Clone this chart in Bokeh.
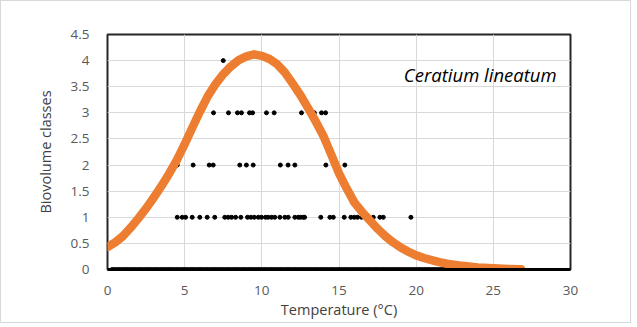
from bokeh.plotting import figure
from bokeh.models import Range1d, FixedTicker, Label
from bokeh.embed import file_html
from bokeh.resources import INLINE

# Fitted curve
curve_t = [0, 0.5, 1, 1.5, 2, 2.5, 3, 3.5, 4, 4.5, 5, 5.5, 6, 6.5, 7, 7.5, 8, 8.5, 9, 9.5,
           10, 10.5, 11, 11.5, 12, 12.5, 13, 13.5, 14, 14.5, 15, 15.5, 16, 16.5, 17, 17.5,
           18, 18.5, 19, 19.5, 20, 20.5, 21, 21.5, 22, 23, 24, 25, 26, 26.8]
curve_y = [0.43, 0.52, 0.64, 0.80, 0.98, 1.17, 1.38, 1.60, 1.84, 2.10, 2.40, 2.72, 3.03, 3.32,
           3.55, 3.74, 3.89, 4.01, 4.08, 4.12, 4.09, 4.03, 3.93, 3.77, 3.56, 3.34, 3.09, 2.83,
           2.55, 2.20, 1.84, 1.55, 1.28, 1.10, 0.94, 0.78, 0.64, 0.52, 0.42, 0.34, 0.27, 0.22,
           0.18, 0.14, 0.11, 0.07, 0.04, 0.022, 0.01, 0.004]

# Observations (temperature) per biovolume class
class4_t = [7.5]
class3_t = [6.87, 7.84, 8.42, 8.68, 9.2, 9.4, 10.3, 10.8, 12.57, 13.4, 13.87, 14.13]
class2_t = [4.52, 5.55, 6.59, 6.85, 8.57, 9.0, 9.44, 11.2, 11.7, 12.14, 14.15, 15.38]
class1_t = [4.52, 4.84, 5.06, 5.49, 5.98, 6.46, 6.95, 7.6, 7.82, 8.04, 8.3, 8.64, 9.07, 9.29,
            9.51, 9.77, 9.98, 10.24, 10.41, 10.63, 10.84, 11.17, 11.49, 11.71, 12.14, 12.36,
            12.5, 12.68, 12.77, 13.82, 14.41, 14.63, 15.34, 15.77, 15.99, 16.2, 16.46, 16.68,
            17.22, 17.65, 17.87, 19.66]
class0_t = [0.3, 0.45, 0.6, 0.75, 0.9, 1.05, 1.2, 1.35, 1.5, 1.65, 1.8, 1.95, 2.1, 2.25, 2.4,
            2.55, 2.7, 2.85, 3.0, 3.15, 3.3, 3.45, 3.6, 3.75, 3.9, 4.05, 4.2, 4.35, 4.5, 4.65,
            4.8, 4.95, 5.1, 5.25, 5.4, 5.55, 5.7, 5.85, 6.0, 6.15, 6.3, 6.45, 6.6, 6.75, 6.9,
            7.05, 7.2, 7.35, 7.5, 7.65, 7.8, 7.95, 8.1, 8.25, 8.4, 8.55, 8.7, 8.85, 9.0, 9.15,
            9.3, 9.45, 9.6, 9.75, 9.9, 10.05, 10.2, 10.35, 10.5, 10.65, 10.8, 10.95, 11.1,
            11.25, 11.4, 11.55, 11.7, 11.85, 12.0, 12.15, 12.3, 12.45, 12.6, 12.75, 12.9,
            13.05, 13.2, 13.35, 13.5, 13.65, 13.8, 13.95, 14.1, 14.25, 14.4, 14.55, 14.7,
            14.85, 15.0, 15.15, 15.3, 15.45, 15.6, 15.75, 15.9, 16.05, 16.2, 16.35, 16.5,
            16.65, 16.8, 16.95, 17.1, 17.25, 17.4, 17.55, 17.7, 17.85, 18.0, 18.15, 18.3,
            18.45, 18.6, 18.75, 18.9, 19.05, 19.2, 19.35, 19.5, 19.65, 19.8, 19.95, 20.1,
            20.25, 20.4, 20.55, 20.7, 20.85, 21.0, 21.15, 21.3, 21.45, 21.6, 21.75, 21.9, 22.0]

y_ticks = [0, 0.5, 1, 1.5, 2, 2.5, 3, 3.5, 4, 4.5]
y_labels = ["0", "0.5", "1", "1.5", "2", "2.5", "3", "3.5", "4", "4.5"]
x_ticks = [0, 5, 10, 15, 20, 25, 30]

FONT = "Open Sans"
TICK_COLOR = "#595959"

p = figure(width=631, height=323, output_backend="svg", toolbar_location=None,
           x_range=Range1d(0, 30), y_range=Range1d(0, 4.5),
           min_border_left=106, min_border_right=62, min_border_top=33, min_border_bottom=55)
p.styles = {"border": "1px solid #d9d9d9"}

p.outline_line_color = "#262626"
p.outline_line_width = 2

p.xgrid.grid_line_color = "#d9d9d9"
p.ygrid.grid_line_color = "#d9d9d9"

p.xaxis.ticker = FixedTicker(ticks=x_ticks)
p.yaxis.ticker = FixedTicker(ticks=y_ticks)
p.yaxis.major_label_overrides = {t: l for t, l in zip(y_ticks, y_labels)}

for ax in (p.xaxis, p.yaxis):
    ax.major_tick_line_color = None
    ax.minor_tick_line_color = None
    ax.major_label_text_font = FONT
    ax.major_label_text_font_size = "13.5px"
    ax.major_label_text_color = TICK_COLOR
    ax.axis_label_text_font = FONT
    ax.axis_label_text_font_size = "14.5px"
    ax.axis_label_text_font_style = "normal"
    ax.axis_label_text_color = "#404040"
p.yaxis.axis_line_color = None
p.xaxis.axis_line_color = "#000000"
p.xaxis.axis_line_width = 3

p.xaxis.axis_label = "Temperature (°C)"
p.yaxis.axis_label = "Biovolume classes"
p.xaxis.major_label_standoff = 10
p.yaxis.major_label_standoff = 12
p.xaxis.axis_label_standoff = 2
p.yaxis.axis_label_standoff = 13

# observations
for cls, ts in ((0, class0_t), (1, class1_t), (2, class2_t), (3, class3_t), (4, class4_t)):
    p.scatter(ts, [cls] * len(ts), size=4, color="#000000", marker="circle")

# fitted curve
p.line(curve_t, curve_y, line_color="#ED7D31", line_width=8.5, line_join="round", line_cap="round")

p.add_layout(Label(x=29.1, y=3.74, text="Ceratium lineatum", text_align="right",
                   text_baseline="middle", text_font=FONT, text_font_style="italic",
                   text_font_size="18.5px", text_color="#000000"))

open("out.html", "w").write(file_html(p, INLINE))
